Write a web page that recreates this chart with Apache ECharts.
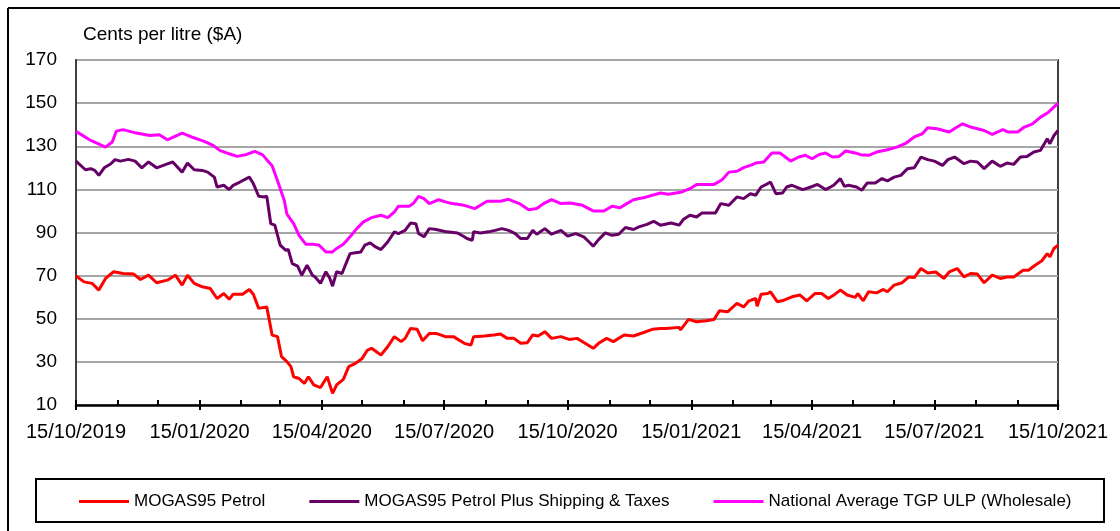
<!DOCTYPE html>
<html>
<head>
<meta charset="utf-8">
<script src="https://cdn.jsdelivr.net/npm/echarts@6/dist/echarts.min.js"></script>
<style>
html,body{margin:0;padding:0;background:#fff;}
#c{width:1120px;height:531px;}
</style>
</head>
<body>
<div id="c"></div>
<script>
// Days since 15/10/2019 and values (cents per litre)
const startDate = [2019, 9, 15];
const seriesNames = ['MOGAS95 Petrol', 'MOGAS95 Petrol Plus Shipping & Taxes', 'National Average TGP ULP (Wholesale)'];

const redDays = [0,6,12,17,22,28,35,43,48,54,60,68,74,79,83,88,94,100,105,110,114,117,124,129,132,136,142,146,150,153,157,160,162,166,170,173,177,182,187,191,194,199,203,208,213,217,220,227,232,237,242,245,249,254,258,263,268,275,281,289,294,296,304,311,316,321,326,331,336,340,344,349,354,361,367,373,379,385,389,395,400,408,415,422,429,435,439,449,450,456,462,469,475,479,485,492,497,501,506,507,510,515,517,522,527,533,539,544,550,555,560,565,569,574,580,582,586,590,596,601,604,609,615,620,624,629,634,640,646,650,656,661,666,671,676,682,688,693,698,705,709,714,719,723,725,728,731];
const redVals = [69.8,67.1,66.4,63.3,68.7,71.8,71,70.7,68.2,70.2,66.7,67.9,70.2,65.6,70.2,66.4,64.8,64,59.4,61.7,59,61.4,61.4,63.6,61.4,54.8,55.5,42.4,41.7,32.4,30.1,27.8,23.1,22.3,20,23.1,19.3,18.1,23.1,15.4,19.3,21.9,27.8,29.3,31.6,35.5,36.3,33.2,37,41.7,39.4,40.9,45.5,45.1,39.8,43.2,43.2,41.7,41.7,38.6,37.8,41.7,42,42.5,42.9,40.9,40.9,38.6,38.9,42.5,42,44,40.9,41.7,40.4,40.9,38.6,36.3,38.6,40.9,39.4,42.5,42,43.5,45.1,45.5,45.5,46,44.8,49.7,48.6,49.1,49.7,53.7,53.2,57.1,55.5,58.3,59.4,55.8,61.4,61.7,62.5,57.9,58.6,60.2,61,58.3,61.7,61.7,59.4,61.4,63.3,61,59.9,61.7,58.3,62.5,62,63.6,62.5,65.6,66.7,69.4,69.1,73.3,71.2,71.7,68.7,71.7,73.3,69.4,71,70.7,66.7,70.2,68.7,69.4,69.4,72.5,72.5,74.8,76.9,80.2,78.7,82.6,84.1];

const purpleDays = [0,7,11,14,17,21,26,29,33,39,44,49,54,60,67,72,79,83,88,94,98,103,105,110,114,117,122,129,132,136,140,142,145,148,152,156,158,161,165,168,172,176,178,182,186,189,191,194,198,201,204,208,212,215,219,223,227,232,237,240,245,249,253,255,259,263,268,273,276,284,289,291,295,296,301,307,312,317,322,327,331,336,340,343,349,354,361,366,372,378,382,385,389,394,399,404,409,415,419,425,430,435,443,449,452,457,462,466,476,480,486,492,497,502,506,510,515,517,521,526,529,533,541,547,552,558,564,569,572,575,581,585,589,595,600,604,609,614,619,624,629,634,639,645,649,654,661,666,671,676,682,688,693,698,703,708,713,718,723,725,728,731];
const purpleVals = [123.1,119.1,119.6,118.8,116.5,120,121.9,123.8,123.1,123.9,123.1,120,122.7,120,121.6,122.7,118,122.2,119.1,118.8,118,115.7,111.1,111.9,109.9,111.9,113.4,115.7,112.7,106.8,106.5,106.8,94.1,93.4,84.1,81.8,82.1,75.6,74.4,70.2,74.8,70.2,69.4,66.4,71.8,68.7,65.1,71.8,71,75.6,80.2,80.6,81,84.1,85.2,83.3,82.1,85.6,90.3,89.5,91,94.4,94.1,89.5,88,91.8,91.4,90.7,90.3,89.8,88,87.2,86.4,90.3,89.8,90.3,91,91.8,91,89.5,87.2,87.2,91,89.2,91.8,89.2,91,88.3,89.5,88,85.6,83.6,86.7,89.8,88.7,89.2,92.3,91.4,92.6,93.8,95.2,93.4,94.4,93.4,96,98,97.2,99.1,99.1,103.4,102.6,106.5,105.7,108,107.3,111.1,112.7,113.4,108,108.3,111.1,111.9,109.9,111.1,112.3,109.9,111.9,115,111.4,111.9,111.1,109.6,113,113,115,113.9,115.7,116.5,119.6,120,125,123.8,123.1,121.1,123.8,125,121.9,123.1,122.7,119.6,123.1,120.7,122.2,121.6,125,125.3,127.3,128.1,133.5,131.2,135,137.3];

const magentaDays = [0,11,22,27,30,35,45,55,62,68,79,86,95,102,107,114,120,127,133,139,143,146,150,155,157,162,166,171,176,181,186,191,194,199,204,209,214,220,227,232,237,240,248,251,255,259,263,270,275,280,289,297,306,316,322,330,337,343,348,354,361,368,377,385,393,399,405,410,415,423,429,435,441,451,457,462,475,481,486,492,497,502,506,512,518,524,528,532,538,543,548,553,558,563,568,573,580,584,590,596,604,611,618,624,630,634,641,650,655,660,666,671,676,682,690,694,701,706,712,718,724,731];
const magentaVals = [136.9,132.7,129.6,132,137,137.7,136.1,135,135.3,133,136.1,134.3,132.4,130.4,128.1,126.5,125.3,126.2,127.6,126,123,121,114,105,98.5,94.1,88.7,84.6,84.6,84.1,81,81,82.6,84.6,88,91.8,94.9,96.9,98,96.9,99.5,102.2,102.2,103.4,106.8,105.7,103.4,105.2,104.2,103.4,102.6,101.1,104.5,104.5,105.4,103.4,100.6,101.1,103.4,105.2,103.4,103.7,102.6,100,100,102.2,101.5,103.4,105.2,106.2,107.3,108.3,107.7,108.8,110.3,112.3,112.3,114.5,118,118.4,120.1,121.1,122.2,122.7,126.9,126.9,125,123.1,125,125.8,124.2,126.1,126.9,125,125.3,127.8,126.9,126.1,125.8,127.3,128.4,129.6,131.5,134.3,135.8,138.6,138.1,136.6,138.6,140.4,138.9,138.1,137.3,135.5,137.7,136.6,136.6,138.9,140.4,143.5,145.8,150];

// Axis tick dates
const quarterLabels = ['15/10/2019','15/01/2020','15/04/2020','15/07/2020','15/10/2020','15/01/2021','15/04/2021','15/07/2021','15/10/2021'];

const DAY = 86400000;
const t0 = Date.UTC(startDate[0], startDate[1], startDate[2]);
function pairs(days, vals){ return days.map((d,i)=>[t0 + d*DAY, vals[i]]); }
function parseLabel(s){ const p = s.split('/'); return Date.UTC(+p[2], +p[1]-1, +p[0]); }
const quarterTs = quarterLabels.map(parseLabel);
const monthTs = [];
for (let m = 0; m <= 24; m++) monthTs.push(Date.UTC(2019, 9 + m, 15));
function fmt(v){ const d = new Date(v); const dd = String(d.getUTCDate()).padStart(2,'0'); const mm = String(d.getUTCMonth()+1).padStart(2,'0'); return dd + '/' + mm + '/' + d.getUTCFullYear(); }

const FONT = '"Liberation Sans", Arial, sans-serif';
const chart = echarts.init(document.getElementById('c'), null, {renderer:'canvas'});
chart.setOption({
  animation: false,
  backgroundColor: '#ffffff',
  grid: { left: 76, right: 62, top: 60, bottom: 126, show: true, borderColor: '#404040', borderWidth: 2, backgroundColor: '#fff' },
  xAxis: [{
    type: 'value', min: quarterTs[0], max: quarterTs[quarterTs.length-1], position: 'bottom',
    axisLine: { lineStyle: { color: '#000', width: 2.5 } },
    axisTick: { show: true, customValues: quarterTs, length: 5, inside: false, lineStyle: { color: '#000', width: 2 } },
    axisLabel: { customValues: quarterTs, formatter: fmt, color: '#000', fontFamily: FONT, fontSize: 20, margin: 17, showMinLabel: true, showMaxLabel: true, hideOverlap: false },
    splitLine: { show: false }
  },{
    type: 'value', min: quarterTs[0], max: quarterTs[quarterTs.length-1], position: 'bottom', offset: 0,
    axisLine: { show: false },
    axisTick: { show: true, customValues: monthTs, length: 5, inside: true, lineStyle: { color: '#000', width: 2 } },
    axisLabel: { show: false },
    splitLine: { show: false }
  }],
  yAxis: {
    type: 'value', min: 10, max: 170, interval: 20,
    axisLine: { show: true, lineStyle: { color: '#404040', width: 2 } },
    axisTick: { show: false },
    axisLabel: { color: '#000', fontFamily: FONT, fontSize: 19, margin: 19 },
    splitLine: { show: true, lineStyle: { color: '#a6a6a6', width: 2 } }
  },
  legend: {
    left: 74, top: 488, icon: 'rect', itemWidth: 50, itemHeight: 3, itemGap: 44,
    textStyle: { color: '#000', fontFamily: FONT, fontSize: 17 },
    data: seriesNames
  },
  graphic: [
    { type: 'line', shape: { x1: 8, y1: 8, x2: 1120, y2: 8 }, style: { stroke: '#000', lineWidth: 2 } },
    { type: 'line', shape: { x1: 8, y1: 8, x2: 8, y2: 531 }, style: { stroke: '#000', lineWidth: 2 } },
    { type: 'rect', shape: { x: 36, y: 479, width: 1068, height: 43 }, style: { fill: 'none', stroke: '#000', lineWidth: 2 } },
    { type: 'text', left: 83, top: 25, style: { text: 'Cents per litre ($A)', fill: '#000', font: '19px ' + FONT } }
  ],
  series: [
    { name: seriesNames[0], type: 'line', data: pairs(redDays, redVals), showSymbol: false, color: '#ff0000', lineStyle: { width: 3, color: '#ff0000' } },
    { name: seriesNames[1], type: 'line', data: pairs(purpleDays, purpleVals), showSymbol: false, color: '#660066', lineStyle: { width: 3, color: '#660066' } },
    { name: seriesNames[2], type: 'line', data: pairs(magentaDays, magentaVals), showSymbol: false, color: '#ff00ff', lineStyle: { width: 3, color: '#ff00ff' } }
  ]
});
</script>
</body>
</html>
